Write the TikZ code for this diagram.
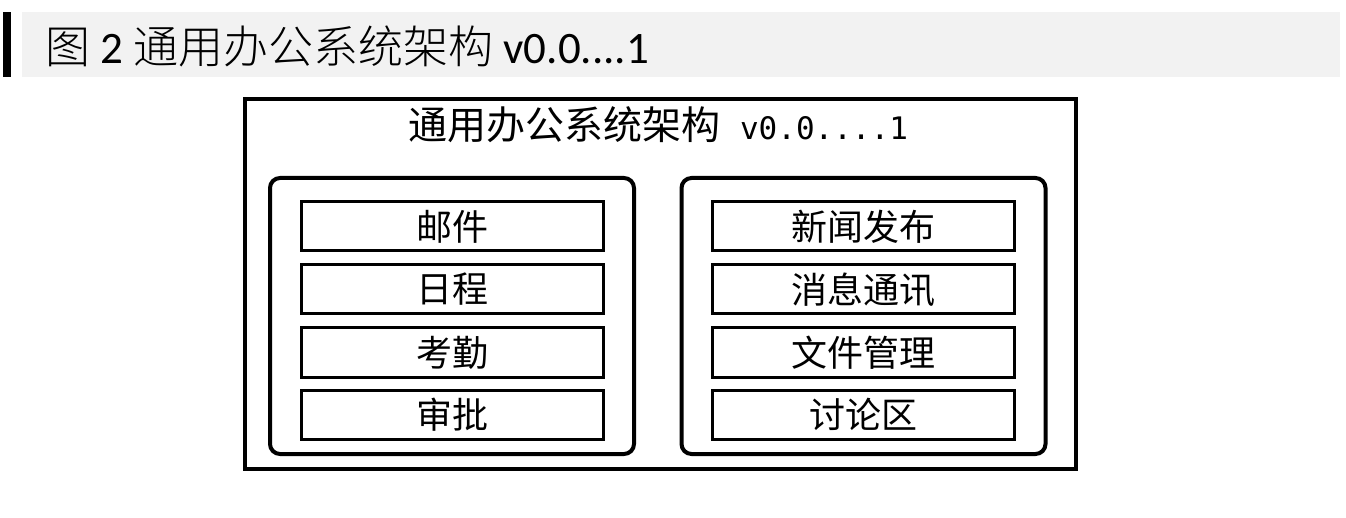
\documentclass[tikz,border=0pt]{standalone}
\usepackage{fontspec}
\setmainfont{Carlito}
\newfontfamily\cjk{Noto Sans CJK SC}[UprightFont=* Light]
\newfontfamily\cjkreg{Noto Sans CJK SC}
\newfontfamily\monofnt{DejaVu Sans Mono}
\definecolor{bandgray}{HTML}{F2F2F2}
\begin{document}
\begin{tikzpicture}[x=1pt,y=-1pt,
  itembox/.style={draw, line width=3pt, minimum width=302pt, minimum height=49pt, inner sep=0pt,
    font=\cjkreg\fontsize{36}{36}\selectfont},
  grpbox/.style={draw, line width=4pt, rounded corners=10pt, minimum width=364pt, minimum height=276pt, inner sep=0pt},
  outerbox/.style={draw, line width=4.5pt, minimum width=831pt, minimum height=370pt, inner sep=0pt}]
\useasboundingbox (0,0) rectangle (1346,518);
% header
\fill[bandgray] (22,12) rectangle (1340,77);
\fill[black] (3,12) rectangle (11,77);
\node[anchor=base west, inner sep=0pt, font=\fontsize{45}{45}\selectfont] (hdr) at (45,64)
  {{\cjk 图} 2 {\cjk 通用办公系统架构} v0.0....1};
% outer frame
\node[outerbox] (outer) at (660.5,284) {};
\node[inner sep=0pt, anchor=base] (title) at (658,140)
  {{\cjkreg\fontsize{39}{39}\selectfont 通用办公系统架构}\hspace{20pt}{\monofnt\fontsize{31}{31}\selectfont v0.0....1}};
% groups
\node[grpbox] (lgrp) at (452,316) {};
\node[grpbox] (rgrp) at (863.5,316) {};
% left items
\node[itembox] (mail) at (452.5,226.5) {邮件};
\node[itembox] (sched) at (452.5,289.5) {日程};
\node[itembox] (attend) at (452.5,352.5) {考勤};
\node[itembox] (approve) at (452.5,414.5) {审批};
% right items
\node[itembox] (news) at (863.5,226.5) {新闻发布};
\node[itembox] (msg) at (863.5,289.5) {消息通讯};
\node[itembox] (files) at (863.5,352.5) {文件管理};
\node[itembox] (forum) at (863.5,414.5) {讨论区};
\end{tikzpicture}
\end{document}
